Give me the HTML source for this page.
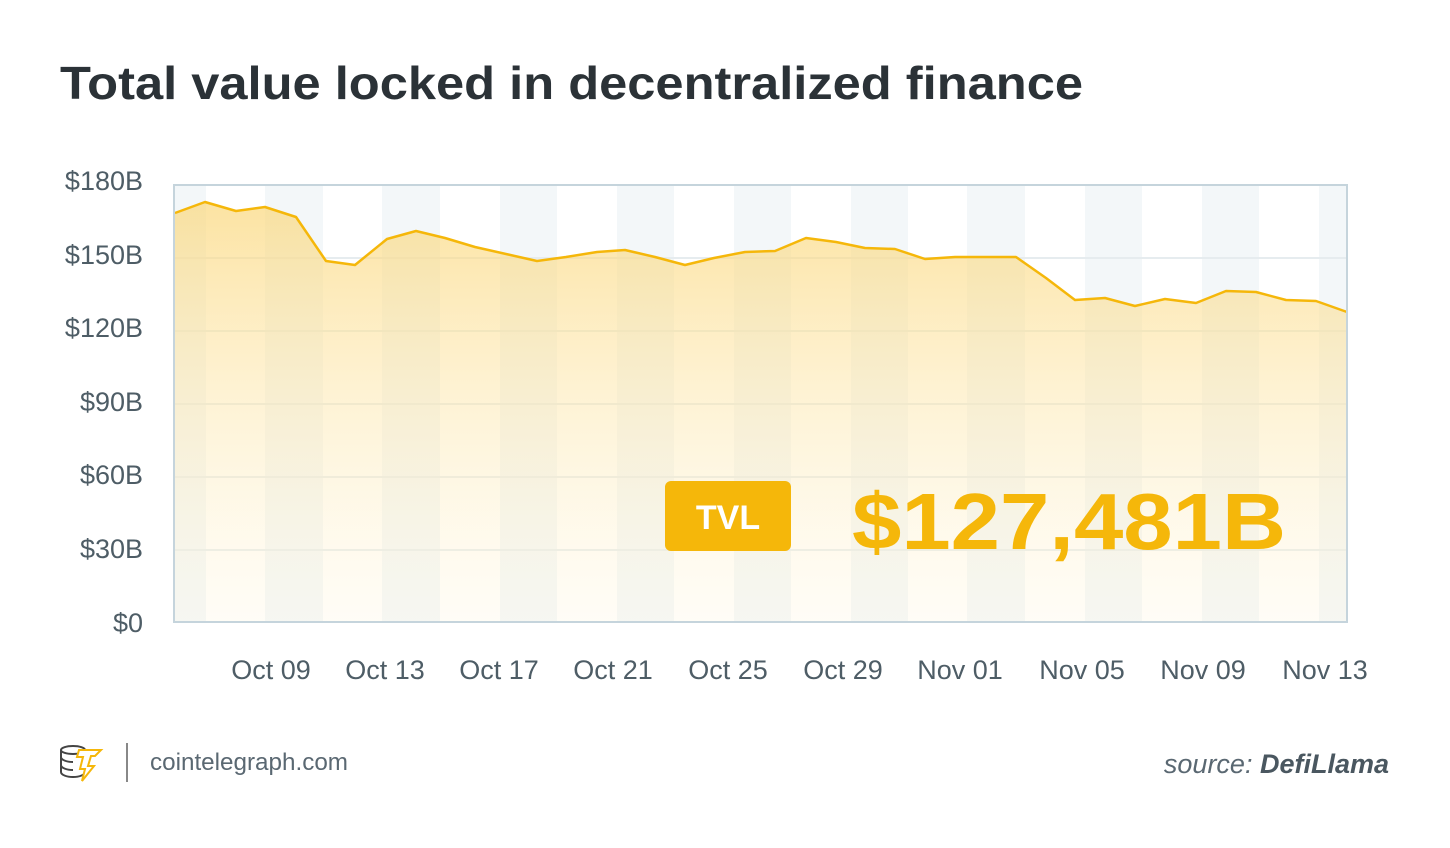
<!DOCTYPE html>
<html><head><meta charset="utf-8"><style>
body{margin:0;width:1450px;height:843px;background:#fff;overflow:hidden;font-family:"Liberation Sans",sans-serif}
</style></head><body>
<svg width="1450" height="843" xmlns="http://www.w3.org/2000/svg">
<defs>
<linearGradient id="g" x1="0" y1="0" x2="0" y2="1">
<stop offset="0" stop-color="#fbd77a" stop-opacity="0.7"/>
<stop offset="1" stop-color="#fff6dc" stop-opacity="0.25"/>
</linearGradient>
</defs>
<text x="60" y="99" font-size="46" font-weight="bold" fill="#2b3237" textLength="1023" lengthAdjust="spacingAndGlyphs">Total value locked in decentralized finance</text>
<g fill="#f3f7f9">
<rect x="174" y="185" width="32" height="437"/>
<rect x="265" y="185" width="58" height="437"/>
<rect x="382" y="185" width="58" height="437"/>
<rect x="500" y="185" width="57" height="437"/>
<rect x="617" y="185" width="57" height="437"/>
<rect x="734" y="185" width="57" height="437"/>
<rect x="851" y="185" width="57" height="437"/>
<rect x="967" y="185" width="58" height="437"/>
<rect x="1085" y="185" width="57" height="437"/>
<rect x="1202" y="185" width="57" height="437"/>
<rect x="1319" y="185" width="28" height="437"/>
</g>
<g stroke="#e6ecef" stroke-width="2">
<line x1="174" y1="258" x2="1347" y2="258"/><line x1="174" y1="331" x2="1347" y2="331"/>
<line x1="174" y1="404" x2="1347" y2="404"/><line x1="174" y1="477" x2="1347" y2="477"/>
<line x1="174" y1="550" x2="1347" y2="550"/>
</g>
<polygon fill="url(#g)" points="175,622 175,213 205,202 236,211 265,207 296,217 326,261 355,265 387,239 416,231 445,238 475,247 537,261 566,257 597,252 625,250 655,257 685,265 714,258 745,252 775,251 806,238 836,242 865,248 895,249 925,259 955,257 1016,257 1046,278 1075,300 1105,298 1135,306 1165,299 1196,303 1226,291 1256,292 1286,300 1316,301 1347,312 1347,622"/>
<polyline fill="none" stroke="#f5b70a" stroke-width="2.5" stroke-linejoin="round" points="175,213 205,202 236,211 265,207 296,217 326,261 355,265 387,239 416,231 445,238 475,247 537,261 566,257 597,252 625,250 655,257 685,265 714,258 745,252 775,251 806,238 836,242 865,248 895,249 925,259 955,257 1016,257 1046,278 1075,300 1105,298 1135,306 1165,299 1196,303 1226,291 1256,292 1286,300 1316,301 1347,312"/>
<rect x="174" y="185" width="1173" height="437" fill="none" stroke="#c5d4dc" stroke-width="2"/>
<g font-size="27" fill="#4e5d66" text-anchor="end">
<text x="143" y="190">$180B</text><text x="143" y="264">$150B</text><text x="143" y="337">$120B</text>
<text x="143" y="411">$90B</text><text x="143" y="484">$60B</text><text x="143" y="558">$30B</text><text x="143" y="632">$0</text>
</g>
<g font-size="27" fill="#4e5d66" text-anchor="middle">
<text x="271" y="679">Oct 09</text><text x="385" y="679">Oct 13</text><text x="499" y="679">Oct 17</text>
<text x="613" y="679">Oct 21</text><text x="728" y="679">Oct 25</text><text x="843" y="679">Oct 29</text>
<text x="960" y="679">Nov 01</text><text x="1082" y="679">Nov 05</text><text x="1203" y="679">Nov 09</text>
<text x="1325" y="679">Nov 13</text>
</g>
<rect x="665" y="481" width="126" height="70" rx="6" fill="#f5b70a"/>
<text x="728" y="529" font-size="34" font-weight="bold" fill="#fff" text-anchor="middle">TVL</text>
<text x="1069" y="549" font-size="80" font-weight="bold" fill="#f5b70a" text-anchor="middle" textLength="434" lengthAdjust="spacingAndGlyphs">$127,481B</text>
<g fill="none" stroke="#444" stroke-width="2">
<ellipse cx="73" cy="750" rx="12" ry="4"/><path d="M61 750v22c0 3 6 5 12 5s12-2 12-5v-22M61 757c0 3 6 5 12 5M61 765c0 3 6 5 12 5"/>
</g>
<path d="M79 750h22l-6 6h-4l-3 10h6l-12 15 3-12h-5l3-12h-6z" fill="#fff" stroke="#f5b70a" stroke-width="2"/>
<line x1="127" y1="743" x2="127" y2="782" stroke="#888" stroke-width="2"/>
<text x="150" y="770" font-size="24" fill="#5a6872" textLength="198" lengthAdjust="spacingAndGlyphs">cointelegraph.com</text>
<text x="1389" y="773" font-size="27" fill="#5a6872" text-anchor="end" font-style="italic">source: <tspan font-weight="bold" fill="#4a5760">DefiLlama</tspan></text>
</svg>
</body></html>
